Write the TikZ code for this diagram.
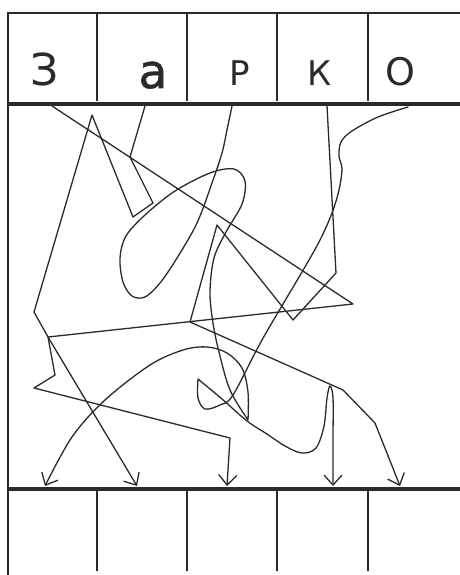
\documentclass[tikz,border=0pt]{standalone}
\usepackage{fontspec}
\setmainfont{DejaVu Sans}
\newfontfamily\heavyfont{DejaVu Sans}[FakeBold=1.2]
\usetikzlibrary{arrows.meta}
\definecolor{ink}{HTML}{2A2A2A}
\tikzset{
  frame/.style={draw=ink, line width=2.2pt},
  rule/.style={draw=ink, line width=3.4pt},
  sep/.style={draw=ink, line width=1.9pt},
  wire/.style={draw=ink, line width=1.3pt, line join=round, line cap=round},
  lead/.style={wire, -{Straight Barb[length=10pt,width=18pt]}},
  glyph/.style={anchor=base, text=ink, inner sep=0pt}
}
\begin{document}
\begin{tikzpicture}[x=1pt,y=-1pt]
  \useasboundingbox (0,0) rectangle (460,575);
  \draw[frame] (461,13) -- (8,13) -- (8,576);
  \draw[rule] (8,104) -- (461,104);
  \draw[rule] (8,489) -- (461,489);
  \foreach \x in {97,187,277,368} {
    \draw[sep] (\x,13) -- (\x,101);
    \draw[sep] (\x,489) -- (\x,571);
  }
  \node[glyph, font=\fontsize{44}{44}\selectfont] (l-z) at (45,86) {З};
  \node[glyph, font=\heavyfont\fontsize{47}{47}\selectfont] (l-a) at (153,88) {а};
  \node[glyph, font=\fontsize{34}{34}\selectfont] (l-r) at (240,86) {Р};
  \node[glyph, font=\fontsize{34}{34}\selectfont] (l-k) at (320,86) {К};
  \node[glyph, font=\fontsize{38}{38}\selectfont] (l-o) at (400,86) {О};
  \coordinate (z-in) at (52,106);
  \coordinate (a-in) at (145,106);
  \coordinate (r-in) at (232,106);
  \coordinate (k-in) at (327,106);
  \coordinate (o-in) at (408,107);
  \coordinate (b1) at (45,486);
  \coordinate (b2) at (137,486);
  \coordinate (b3) at (227,486);
  \coordinate (b4) at (333,486);
  \coordinate (b5) at (400,486);
  \draw[lead] (z-in) -- (353,304) -- (48,337) -- (b2);
  \draw[lead] (a-in) -- (130,157) -- (153,203) -- (133,217) -- (92,115) -- (34,312) -- (48,337)
    -- (55,375) -- (34,388) -- (230,438) -- (b3);
  \draw[lead] plot[smooth, tension=0.55] coordinates {(r-in) (227,130) (222,153) (212,183) (197,223)
    (177,258) (160,283) (145,297) (132,296) (123,282) (120,258) (126,236) (145,215) (175,191)
    (210,173) (234,169) (245,181) (242,204) (226,232) (214,258) (210,292) (213,323) (219,352)
    (230,390) (248,420)}
    -- plot[smooth, tension=0.55] coordinates {(248,420) (248,392) (242,368) (227,353) (207,347)
    (183,350) (150,365) (105,400) (72,437) (b1)};
  \draw[lead] (k-in) -- (336,273) -- (293,320) -- (217,225) -- (190,322) -- (343,390) -- (375,423) -- (b5);
  \draw[lead] plot[smooth, tension=0.55] coordinates {(o-in) (378,117) (352,131) (341,142) (339,156)
    (342,169) (339,190) (332,213) (320,240) (302,272) (262,340) (233,395) (220,405) (205,409)
    (198,398) (198,379)}
    -- plot[smooth, tension=0.55] coordinates {(198,379) (222,399) (247,421) (267,434) (285,446)
    (302,453) (316,448) (324,426) (327,398) (330,386) (333,398) (333,440) (b4)};
\end{tikzpicture}
\end{document}
